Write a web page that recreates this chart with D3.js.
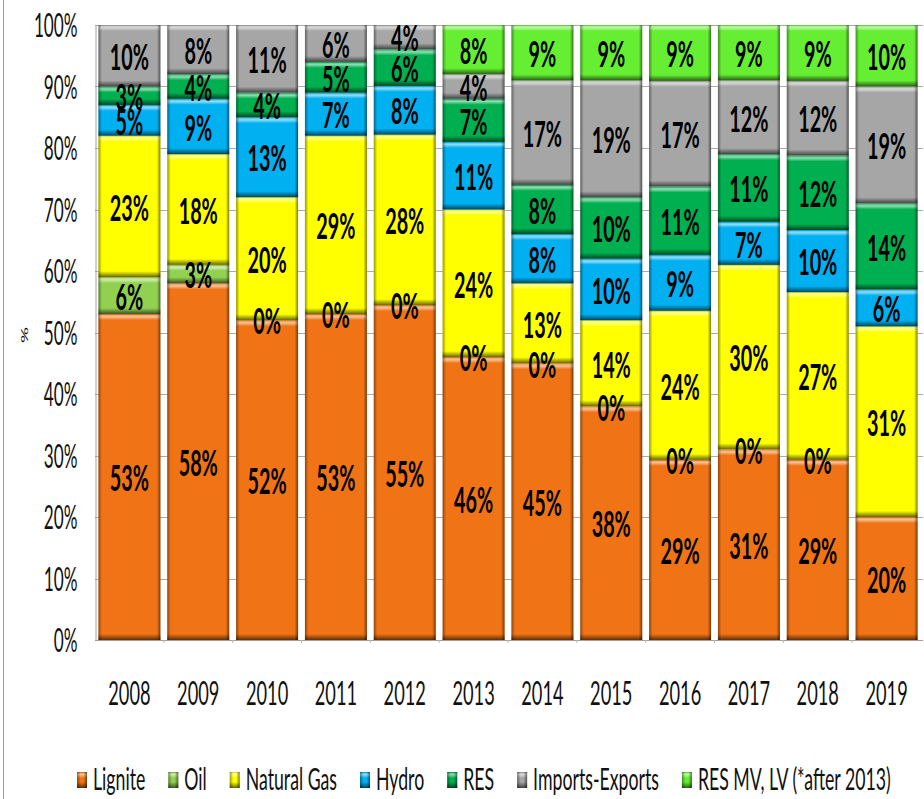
<!DOCTYPE html>
<html>
<head>
<meta charset="utf-8">
<script src="https://cdn.jsdelivr.net/npm/d3@7"></script>
<style>
  body { margin: 0; background: #fff; }
  svg { display: block; }
</style>
</head>
<body>
<svg id="chart" width="924" height="799"></svg>
<script>
// Electricity generation mix, share of total per year (%)
const years = ["2008", "2009", "2010", "2011", "2012", "2013", "2014", "2015", "2016", "2017", "2018", "2019"];
const lignite        = [53, 58, 52, 53, 55, 46, 45, 38, 29, 31, 29, 20];
const oil            = [6, 3, 0, 0, 0, 0, 0, 0, 0, 0, 0, null];
const naturalGas     = [23, 18, 20, 29, 28, 24, 13, 14, 24, 30, 27, 31];
const hydro          = [5, 9, 13, 7, 8, 11, 8, 10, 9, 7, 10, 6];
const res            = [3, 4, 4, 5, 6, 7, 8, 10, 11, 11, 12, 14];
const importsExports = [10, 8, 11, 6, 4, 4, 17, 19, 17, 12, 12, 19];
const resMvLv        = [null, null, null, null, null, 8, 9, 9, 9, 9, 9, 10];

const seriesNames  = ["Lignite", "Oil", "Natural Gas", "Hydro", "RES", "Imports-Exports", "RES MV, LV (*after 2013)"];
const seriesValues = [lignite, oil, naturalGas, hydro, res, importsExports, resMvLv];
const seriesColors = ["#F07415", "#92D050", "#FFFF00", "#00B0F0", "#00B050", "#A6A6A6", "#66EE33"];
const yTicks = [0, 0.1, 0.2, 0.3, 0.4, 0.5, 0.6, 0.7, 0.8, 0.9, 1];

const FONT = "Lato, 'Open Sans', sans-serif";
const NARROW = 0.52; // horizontal squeeze applied to the text

const rows = years.map((yr, i) => {
  const r = { year: yr };
  seriesNames.forEach((name, s) => { r[name] = seriesValues[s][i]; });
  return r;
});

const stacked = d3.stack()
  .keys(seriesNames)
  .value((d, k) => d[k] == null ? 0 : d[k])
  .offset(d3.stackOffsetExpand)(rows);

const svg = d3.select("#chart");
const plot = { left: 95, right: 921, top: 25, bottom: 640 };

const x = d3.scaleBand().domain(years).range([plot.left, plot.right]).paddingInner(0.1).paddingOuter(0.05);
const y = d3.scaleLinear().domain([0, 1]).range([plot.bottom, plot.top]);

// bevel gradients
const defs = svg.append("defs");
function grad(id, vertical, stops) {
  const g = defs.append("linearGradient").attr("id", id)
    .attr("x1", 0).attr("y1", 0).attr("x2", vertical ? 0 : 1).attr("y2", vertical ? 1 : 0);
  stops.forEach(([o, c, a]) => g.append("stop").attr("offset", o).attr("stop-color", c).attr("stop-opacity", a));
}
grad("bvTop", true, [[0, "#000", 0.12], [0.2, "#fff", 0.35], [0.45, "#fff", 0.55], [1, "#fff", 0]]);
grad("bvBottom", true, [[0, "#000", 0], [0.5, "#000", 0.3], [1, "#000", 0.6]]);
grad("bvLeft", false, [[0, "#000", 0.4], [1, "#000", 0]]);
grad("bvRight", false, [[0, "#000", 0], [1, "#000", 0.5]]);

// outer left border of the chart area
svg.append("line").attr("x1", 3.5).attr("x2", 3.5).attr("y1", 0).attr("y2", 799)
  .attr("stroke", "#9a9a9a").attr("stroke-width", 1);

// gridlines
svg.append("g").selectAll("line").data(yTicks.slice(1)).join("line")
  .attr("x1", plot.left).attr("x2", 923)
  .attr("y1", d => Math.round(y(d)) + 0.5).attr("y2", d => Math.round(y(d)) + 0.5)
  .attr("stroke", "#ababab").attr("stroke-width", 1);

// y axis
const yAxis = svg.append("g").attr("transform", `translate(${plot.left + 0.5},0)`)
  .call(d3.axisLeft(y).tickValues(yTicks).tickFormat(d3.format(".0%")).tickSize(0));
yAxis.select(".domain").attr("stroke", "#a0a0a0");
yAxis.selectAll("text")
  .attr("font-family", FONT).attr("font-size", 33).attr("fill", "#111")
  .attr("x", -18 / NARROW).attr("dy", "0.35em")
  .attr("transform", `scale(${NARROW},1)`);

// x axis
const XS = 0.57;
const xAxis = svg.append("g").attr("transform", `translate(0,${plot.bottom + 0.5})`)
  .call(d3.axisBottom(x).tickSize(0));
xAxis.select(".domain").attr("stroke", "#a0a0a0").attr("d", `M${plot.left},0H923`);
xAxis.selectAll("text")
  .attr("font-family", FONT).attr("font-size", 32).attr("fill", "#111")
  .attr("y", 65).attr("dy", 0).attr("x", 0)
  .attr("text-anchor", "middle")
  .attr("transform", `scale(${XS},1)`);
// category separators on the base line
svg.append("g").selectAll("line").data(years.slice(1)).join("line")
  .attr("x1", d => x(d) - x.step() * x.paddingInner() / 2).attr("x2", d => x(d) - x.step() * x.paddingInner() / 2)
  .attr("y1", plot.bottom).attr("y2", plot.bottom + 3).attr("stroke", "#bbb");

// y axis title
svg.append("text").text("%")
  .attr("transform", `translate(24,335) scale(${NARROW},1) rotate(-90)`)
  .attr("text-anchor", "middle").attr("dominant-baseline", "central")
  .attr("font-family", FONT).attr("font-size", 20).attr("fill", "#111");

// bevelled block
function bevelRect(g, x0, y0, w, h, color) {
  g.append("rect").attr("x", x0).attr("y", y0).attr("width", w).attr("height", h).attr("fill", color);
  const bv = Math.min(6, h / 2), bh = Math.min(3.5, w / 2);
  g.append("rect").attr("x", x0).attr("y", y0).attr("width", w).attr("height", bv).attr("fill", "url(#bvTop)");
  g.append("rect").attr("x", x0).attr("y", y0 + h - bv).attr("width", w).attr("height", bv).attr("fill", "url(#bvBottom)");
  g.append("rect").attr("x", x0).attr("y", y0).attr("width", bh).attr("height", h).attr("fill", "url(#bvLeft)");
  g.append("rect").attr("x", x0 + w - bh).attr("y", y0).attr("width", bh).attr("height", h).attr("fill", "url(#bvRight)");
}

const bars = svg.append("g");
stacked.forEach((layer, s) => {
  layer.forEach(d => {
    const top = y(d[1]), bot = y(d[0]);
    const h = bot - top;
    if (h > 0.01) bevelRect(bars, x(d.data.year), top, x.bandwidth(), h, seriesColors[s]);
  });
});

// value labels
const labels = svg.append("g");
stacked.forEach((layer, s) => {
  layer.forEach(d => {
    const v = d.data[layer.key];
    if (v == null) return;
    const cx = x(d.data.year) + x.bandwidth() / 2;
    const cy = (y(d[0]) + y(d[1])) / 2;
    labels.append("text").text(Math.round(v) + "%")
      .attr("transform", `translate(${cx},${cy}) scale(0.55,1)`)
      .attr("text-anchor", "middle").attr("dominant-baseline", "central")
      .attr("font-family", FONT).attr("font-weight", "bold").attr("font-size", 36).attr("fill", "#000");
  });
});

// legend
const LS = 0.59;
const legend = svg.append("g");
let lx = 77;
seriesNames.forEach((name, s) => {
  const item = legend.append("g");
  bevelRect(item, lx, 772, 10, 16, seriesColors[s]);
  const t = item.append("text").text(name)
    .attr("transform", `translate(${lx + 16},790) scale(${LS},1)`)
    .attr("font-family", FONT).attr("font-size", 30).attr("fill", "#111");
  const w = t.node().getComputedTextLength() * LS;
  lx += 16 + w + 23;
});
</script>
</body>
</html>
